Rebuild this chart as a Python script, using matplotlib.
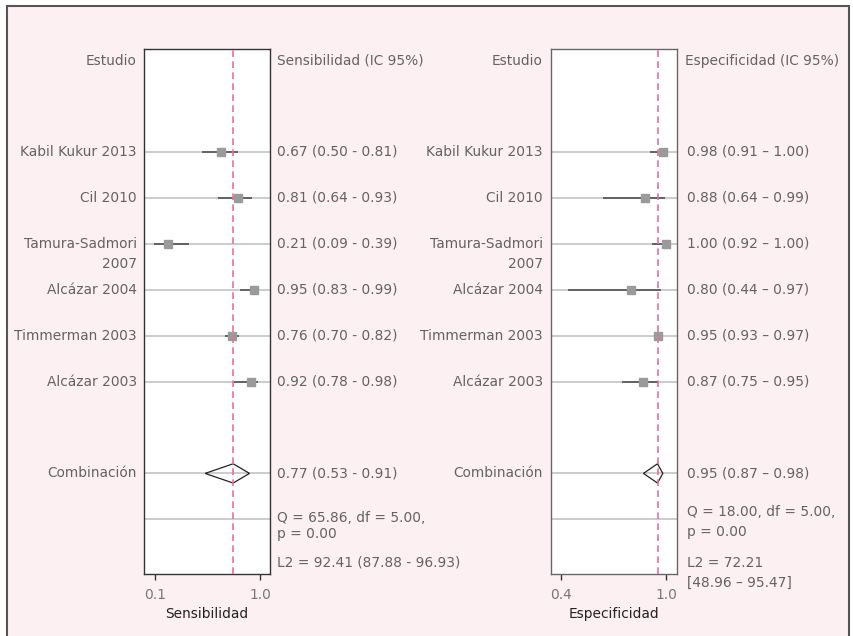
import matplotlib
matplotlib.use("Agg")
import matplotlib.pyplot as plt
from matplotlib.patches import Polygon, Rectangle
import matplotlib.transforms as mtransforms

# ---------------- data ----------------
studies = ["Kabil Kukur 2013", "Cil 2010", "Tamura-Sadmori\n2007",
           "Alcázar 2004", "Timmerman 2003", "Alcázar 2003"]
sens = [0.67, 0.81, 0.21, 0.95, 0.76, 0.92]
sens_lo = [0.50, 0.64, 0.09, 0.83, 0.70, 0.78]
sens_hi = [0.81, 0.93, 0.39, 0.99, 0.82, 0.98]
spec = [0.98, 0.88, 1.00, 0.80, 0.95, 0.87]
spec_lo = [0.91, 0.64, 0.92, 0.44, 0.93, 0.75]
spec_hi = [1.00, 0.99, 1.00, 0.97, 0.97, 0.95]
pooled_label = "Combinación"
pooled_sens = [0.77, 0.53, 0.91]
pooled_spec = [0.95, 0.87, 0.98]
sens_stats = ["Q = 65.86, df = 5.00,", "p = 0.00", "L2 = 92.41 (87.88 - 96.93)"]
spec_stats = ["Q = 18.00, df = 5.00,", "p = 0.00", "L2 = 72.21", "[48.96 – 95.47]"]
sens_ticks = [0.1, 1.0]
sens_ticklabels = ["0.1", "1.0"]
spec_ticks = [0.4, 1.0]
spec_ticklabels = ["0.4", "1.0"]
header_study = "Estudio"
header_sens = "Sensibilidad (IC 95%)"
header_spec = "Especificidad (IC 95%)"
xlabel_sens = "Sensibilidad"
xlabel_spec = "Especificidad"

# ---------------- style ----------------
W, H = 854, 636
BG = "#fdf0f3"
TXT = "#636363"
FS = 9.9
plt.rcParams['font.family'] = ['DejaVu Sans']

fig = plt.figure(figsize=(W / 100, H / 100), dpi=100)
fig.patch.set_facecolor("white")
bg = fig.add_axes([0, 0, 1, 1], zorder=-10)
bg.set_xlim(0, W)
bg.set_ylim(H, 0)
bg.axis("off")
bg.add_patch(Rectangle((7, 6), 849 - 7, H + 10, facecolor=BG,
                       edgecolor="#555555", lw=1.5))

YTOP, YBOT = -2.24, 9.19
rows = list(range(len(studies)))
pooled_row = 7.0
q_row = 8.0


def panel(left_px, xlim, est, lo, hi, pooled, ticks, ticklabels, xlabel,
          header, stats, stats_y, dash, lab_off, val_off, head_off, spine_col):
    ax = fig.add_axes([left_px / W, (H - 574) / H, 126 / W, 525 / H])
    ax.set_facecolor("white")
    ax.set_xlim(*xlim)
    ax.set_ylim(YBOT, YTOP)
    for s in ax.spines.values():
        s.set_color(spine_col)
        s.set_linewidth(1.0)
    ax.set_yticks([])
    ax.set_xticks(ticks)
    ax.set_xticklabels(ticklabels)
    ax.tick_params(axis="x", direction="out", length=4, width=1,
                   color="#333333", labelcolor="#777777", labelsize=FS, pad=6)
    ax.set_xlabel(xlabel, fontsize=FS, color="#222222", labelpad=4)

    # row guide lines
    for r in rows + [pooled_row, q_row]:
        ax.axhline(r, color="#c4c4c4", lw=1.2, zorder=1)

    # CIs and point estimates
    for r, e, l, h in zip(rows, est, lo, hi):
        ax.plot([l, h], [r, r], color="#444444", lw=1.1, zorder=2,
                solid_capstyle="butt")
        ax.plot([e], [r], marker="s", ms=6.3, color="#9a9a9a",
                mec="#9a9a9a", zorder=3)

    # pooled diamond
    pe, pl, ph = pooled
    hh = 0.21
    ax.add_patch(Polygon([(pl, pooled_row), (pe, pooled_row - hh),
                          (ph, pooled_row), (pe, pooled_row + hh)],
                         closed=True, facecolor="none", edgecolor="#222222",
                         lw=0.9, zorder=4))
    # pooled reference line
    ax.axvline(pe, color="#e8709f", lw=1.2, ls=(0, (4, 2.6)), zorder=5)

    tr = mtransforms.blended_transform_factory(ax.transAxes, ax.transData)
    # headers
    ax.text(lab_off, -1.98, header_study, transform=tr, ha="right",
            va="center", fontsize=FS, color=TXT, clip_on=False)
    ax.text(head_off, -1.98, header, transform=tr, ha="left",
            va="center", fontsize=FS, color=TXT, clip_on=False)
    # study labels + values
    for r, name, e, l, h in zip(rows, studies, est, lo, hi):
        lines = name.split("\n")
        for k, ln in enumerate(lines):
            ax.text(lab_off, r + 0.43 * k, ln, transform=tr, ha="right",
                    va="center", fontsize=FS, color=TXT, clip_on=False)
        ax.text(val_off, r, f"{e:.2f} ({l:.2f} {dash} {h:.2f})", transform=tr,
                ha="left", va="center", fontsize=FS, color=TXT, clip_on=False)
    ax.text(lab_off, pooled_row, pooled_label, transform=tr, ha="right",
            va="center", fontsize=FS, color=TXT, clip_on=False)
    ax.text(val_off, pooled_row, f"{pe:.2f} ({pl:.2f} {dash} {ph:.2f})",
            transform=tr, ha="left", va="center", fontsize=FS, color=TXT,
            clip_on=False)
    for s, y in zip(stats, stats_y):
        ax.text(val_off, y, s, transform=tr, ha="left", va="center",
                fontsize=FS, color=TXT, clip_on=False)
    return ax


panel(144, (0.0057, 1.086), sens, sens_lo, sens_hi, pooled_sens,
      sens_ticks, sens_ticklabels, xlabel_sens, header_sens, sens_stats,
      [7.97, 8.32, 8.95], "-", -0.056, 1.056, 1.052, "#333333")
panel(550.7, (0.343, 1.059), spec, spec_lo, spec_hi, pooled_spec,
      spec_ticks, spec_ticklabels, xlabel_spec, header_spec, spec_stats,
      [7.84, 8.28, 8.95, 9.39], "–", -0.063, 1.079, 1.065, "#666666")

fig.savefig("out.png", dpi=100, facecolor=fig.get_facecolor())
